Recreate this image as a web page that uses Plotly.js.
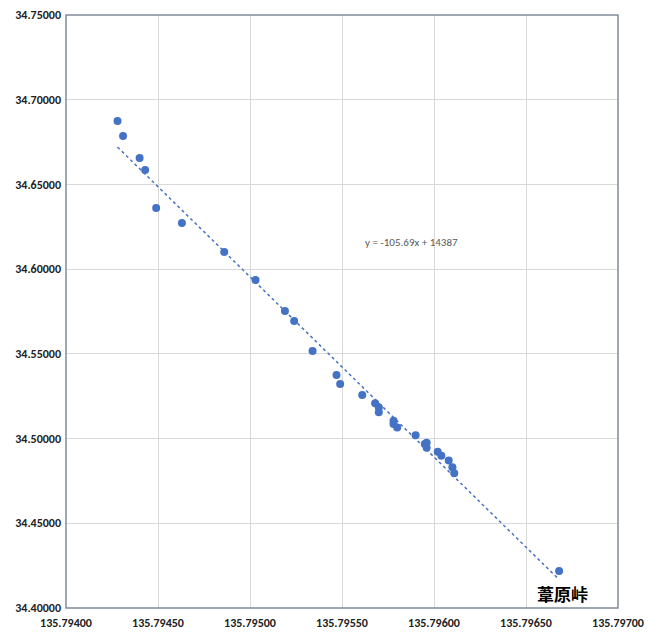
<!DOCTYPE html>
<html><head><meta charset="utf-8">
<script src="https://cdn.plot.ly/plotly-3.0.1.min.js"></script>
<style>html,body{margin:0;background:#fff}#chart{width:658px;height:640px}</style>
</head><body><div id="chart"></div>
<script>
// longitude / latitude
var LON = [135.79428, 135.79431, 135.79440, 135.79443, 135.79449, 135.79463, 135.79486, 135.79503,
  135.79519, 135.79524, 135.79534, 135.79547, 135.79549, 135.79561, 135.79568, 135.79570, 135.79570,
  135.79578, 135.79578, 135.79580, 135.79590, 135.79595, 135.79596, 135.79596, 135.79602, 135.79604,
  135.79608, 135.79610, 135.79611, 135.79668];
var LAT = [34.6874, 34.6786, 34.6656, 34.6585, 34.6361, 34.6272, 34.6101, 34.5936,
  34.5753, 34.5694, 34.5517, 34.5375, 34.5322, 34.5257, 34.5208, 34.5184, 34.5156,
  34.5105, 34.5086, 34.5066, 34.5019, 34.4968, 34.4976, 34.4946, 34.4922, 34.4899,
  34.4871, 34.4830, 34.4795, 34.4218];
var EQ = "y = -105.69x + 14387";
var PEAK = "葦原峠";

// least-squares trendline
var n = LON.length, mx = 0, my = 0;
for (var i = 0; i < n; i++) { mx += LON[i]; my += LAT[i]; }
mx /= n; my /= n;
var sxy = 0, sxx = 0;
for (i = 0; i < n; i++) { sxy += (LON[i] - mx) * (LAT[i] - my); sxx += (LON[i] - mx) * (LON[i] - mx); }
var b = sxy / sxx, a = my - b * mx;
var x0 = Math.min.apply(null, LON), x1 = Math.max.apply(null, LON);

var BLUE = "#4472C4";
var FONT = "Calibri, 'Liberation Sans', Arial, sans-serif";
var axis = {
  showgrid: true, gridcolor: "#d9d9d9", gridwidth: 1, zeroline: false,
  tickformat: ".5f", ticks: "", showline: false,
  tickfont: { family: FONT, size: 12, color: "#222", weight: "bold" }
};
Plotly.newPlot("chart", [
  { type: "scatter", mode: "lines", x: [x0, x1], y: [a + b * x0, a + b * x1],
    line: { color: BLUE, width: 1.5, dash: "dot" }, hoverinfo: "skip" },
  { type: "scatter", mode: "markers", x: LON, y: LAT,
    marker: { color: BLUE, size: 8 } }
], {
  width: 658, height: 640, showlegend: false,
  paper_bgcolor: "#fff", plot_bgcolor: "#fff",
  margin: { l: 66, r: 40, t: 15, b: 32 },
  xaxis: Object.assign({}, axis, { range: [135.794, 135.797], dtick: 0.0005, ticklabelstandoff: 6 }),
  yaxis: Object.assign({}, axis, { range: [34.40, 34.75], dtick: 0.05, ticklabelstandoff: 4 }),
  shapes: [{ type: "rect", xref: "paper", yref: "paper", x0: 0, x1: 1, y0: 0, y1: 1,
    line: { color: "#7f8a99", width: 1.5 } }],
  annotations: [
    { x: 135.79588, y: 34.6155, text: EQ, showarrow: false,
      font: { family: FONT, size: 11, color: "#595959" } },
    { x: 135.79670, y: 34.4085, text: PEAK, showarrow: false,
      font: { family: "'Noto Sans CJK JP', sans-serif", size: 17, color: "#000", weight: "bold" } }
  ]
}, { displayModeBar: false });
</script></body></html>
